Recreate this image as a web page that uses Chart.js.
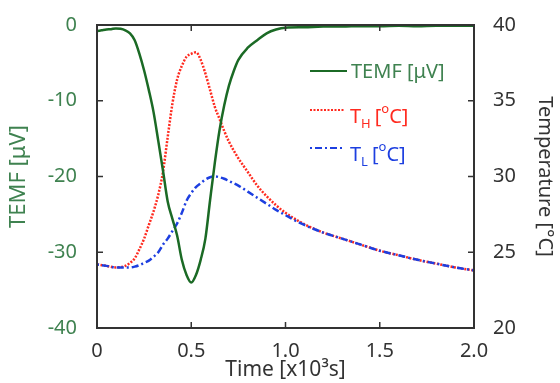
<!DOCTYPE html>
<html>
<head>
<meta charset="utf-8">
<script src="https://cdn.jsdelivr.net/npm/chart.js@4"></script>
<style>
  html, body { margin: 0; padding: 0; background: #fff; }
  #wrap { width: 560px; height: 383px; }
</style>
</head>
<body>
<div id="wrap"><canvas id="c" width="560" height="383"></canvas></div>
<script>
// time [x10^3 s] for the TEMF trace
const tTemf = [0, 0.025, 0.05, 0.075, 0.1, 0.125, 0.15, 0.175, 0.2, 0.225, 0.25, 0.275, 0.3, 0.325, 0.35, 0.375, 0.4, 0.425, 0.45, 0.475, 0.5, 0.525, 0.55, 0.575, 0.6, 0.625, 0.65, 0.675, 0.7, 0.725, 0.75, 0.8, 0.85, 0.9, 0.95, 1.0, 1.1, 1.2, 1.3, 1.4, 1.5, 1.6, 1.7, 1.8, 1.9, 2.0];
const temf = [-0.8, -0.7, -0.6, -0.55, -0.45, -0.5, -0.7, -1.1, -2.0, -3.8, -6.0, -8.6, -11.5, -15.3, -19.2, -23.3, -25.6, -27.8, -31.0, -33.0, -34.0, -33.0, -31.0, -28.2, -23.1, -18.2, -13.9, -10.6, -8.0, -6.1, -4.6, -3.0, -2.0, -1.1, -0.6, -0.35, -0.3, -0.2, -0.2, -0.15, -0.15, -0.1, -0.15, -0.1, -0.1, -0.1];

// time [x10^3 s] for the temperatures
const tTemp = [0, 0.05, 0.1, 0.15, 0.175, 0.2, 0.225, 0.25, 0.275, 0.3, 0.325, 0.35, 0.375, 0.4, 0.425, 0.45, 0.475, 0.5, 0.525, 0.55, 0.575, 0.6, 0.625, 0.65, 0.675, 0.7, 0.75, 0.8, 0.85, 0.9, 0.95, 1.0, 1.05, 1.1, 1.2, 1.3, 1.4, 1.5, 1.6, 1.7, 1.8, 1.9, 2.0];
const tHigh = [24.2, 24.1, 24.0, 24.1, 24.3, 24.6, 25.2, 25.9, 26.8, 27.7, 28.8, 30.3, 32.6, 34.8, 36.4, 37.3, 37.9, 38.1, 38.2, 37.7, 36.8, 35.7, 34.6, 33.8, 33.0, 32.3, 31.2, 30.3, 29.4, 28.7, 28.1, 27.6, 27.2, 26.85, 26.3, 25.9, 25.5, 25.1, 24.8, 24.5, 24.25, 24.0, 23.8];
const tLow = [24.2, 24.1, 24.0, 24.0, 24.0, 24.05, 24.15, 24.3, 24.45, 24.7, 25.0, 25.5, 25.9, 26.4, 26.9, 27.6, 28.4, 28.9, 29.3, 29.55, 29.8, 29.95, 30.0, 29.95, 29.85, 29.7, 29.4, 29.0, 28.6, 28.2, 27.8, 27.45, 27.1, 26.8, 26.3, 25.9, 25.5, 25.1, 24.8, 24.5, 24.25, 24.0, 23.8];

const xTicks = ['0', '0.5', '1.0', '1.5', '2.0'];
const leftTicks = ['-40', '-30', '-20', '-10', '0'];
const rightTicks = ['20', '25', '30', '35', '40'];

const GREEN_LINE = '#1b6a25';
const GREEN_TEXT = '#3f8250';
const RED = '#ff2a1f';
const BLUE = '#1d3fe0';
const AXIS = '#333333';
const FONT = "'Noto Sans', sans-serif";

const pts = (xs, ys) => xs.map((x, i) => ({ x: x, y: ys[i] }));

// frame, inward ticks and the legend (needs subscripts)
const framePlugin = {
    id: 'frame',
    afterDraw(chart) {
        const ctx = chart.ctx;
        const a = chart.chartArea;
        const sx = chart.scales.x, sl = chart.scales.y, sr = chart.scales.y1;
        ctx.save();
        ctx.strokeStyle = AXIS;
        ctx.lineWidth = 2;
        ctx.strokeRect(a.left, a.top, a.right - a.left, a.bottom - a.top);
        ctx.lineWidth = 1.5;
        ctx.beginPath();
        sx.ticks.forEach(t => {
            const px = sx.getPixelForValue(t.value);
            ctx.moveTo(px, a.bottom); ctx.lineTo(px, a.bottom - 6);
            ctx.moveTo(px, a.top); ctx.lineTo(px, a.top + 6);
        });
        sl.ticks.forEach(t => {
            const py = sl.getPixelForValue(t.value);
            ctx.moveTo(a.left, py); ctx.lineTo(a.left + 6, py);
        });
        sr.ticks.forEach(t => {
            const py = sr.getPixelForValue(t.value);
            ctx.moveTo(a.right, py); ctx.lineTo(a.right - 6, py);
        });
        ctx.stroke();

        // legend
        const lx = 310, lw = 37;
        ctx.textBaseline = 'middle';
        ctx.textAlign = 'left';
        ctx.font = '20px ' + FONT;

        ctx.setLineDash([]);
        ctx.strokeStyle = GREEN_LINE; ctx.lineWidth = 2;
        ctx.beginPath(); ctx.moveTo(lx, 71); ctx.lineTo(lx + lw, 71); ctx.stroke();
        ctx.fillStyle = GREEN_TEXT;
        ctx.fillText('TEMF [\u03bcV]', lx + lw + 4, 72);

        const tempEntry = (y, color, dash, sub) => {
            ctx.setLineDash(dash);
            ctx.strokeStyle = color; ctx.lineWidth = 2;
            ctx.beginPath(); ctx.moveTo(lx, y); ctx.lineTo(lx + lw - 2, y); ctx.stroke();
            ctx.setLineDash([]);
            ctx.fillStyle = color;
            let x = lx + lw + 3;
            ctx.font = '20px ' + FONT;
            ctx.fillText('T', x, y + 7); x += ctx.measureText('T').width;
            ctx.font = '13px ' + FONT;
            ctx.fillText(sub, x, y + 14); x += ctx.measureText(sub).width + 4;
            ctx.font = '20px ' + FONT;
            ctx.fillText('[', x, y + 7); x += ctx.measureText('[').width;
            ctx.font = '13px ' + FONT;
            ctx.fillText('o', x, y - 1); x += ctx.measureText('o').width;
            ctx.font = '20px ' + FONT;
            ctx.fillText('C]', x, y + 7);
        };
        tempEntry(110, RED, [2, 1.5], 'H');
        tempEntry(148, BLUE, [2, 3, 7, 3], 'L');
        ctx.restore();
    }
};

new Chart(document.getElementById('c'), {
    type: 'line',
    data: {
        datasets: [
            {
                label: 'TEMF [\u03bcV]',
                data: pts(tTemf, temf),
                yAxisID: 'y',
                borderColor: GREEN_LINE,
                borderWidth: 2.5,
                pointRadius: 0,
                cubicInterpolationMode: 'monotone',
                order: 0
            },
            {
                label: 'TL',
                data: pts(tTemp, tLow),
                yAxisID: 'y1',
                borderColor: BLUE,
                borderWidth: 2.5,
                borderDash: [2, 3, 7, 3],
                pointRadius: 0,
                cubicInterpolationMode: 'monotone',
                order: 1
            },
            {
                label: 'TH',
                data: pts(tTemp, tHigh),
                yAxisID: 'y1',
                borderColor: RED,
                borderWidth: 2.5,
                borderDash: [2, 1.5],
                pointRadius: 0,
                cubicInterpolationMode: 'monotone',
                order: 2
            }
        ]
    },
    options: {
        responsive: false,
        animation: false,
        layout: { padding: { top: 25, left: 0, right: 0, bottom: 0 } },
        plugins: { legend: { display: false }, tooltip: { enabled: false } },
        scales: {
            x: {
                type: 'linear',
                min: 0, max: 2,
                grid: { display: false },
                border: { display: false },
                afterFit: (s) => { s.height = 55; },
                ticks: {
                    stepSize: 0.5,
                    padding: 3,
                    maxRotation: 0,
                    autoSkip: false,
                    color: '#333',
                    font: { family: FONT, size: 20 },
                    callback: (v, i) => xTicks[i]
                },
                title: {
                    display: true,
                    text: 'Time [x10\u00b3s]',
                    color: '#333',
                    font: { family: FONT, size: 21 },
                    padding: { top: 0, bottom: 0 }
                }
            },
            y: {
                position: 'left',
                min: -40, max: 0,
                grid: { display: false },
                border: { display: false },
                afterFit: (s) => { s.width = 97; },
                ticks: {
                    stepSize: 10,
                    padding: 12,
                    color: GREEN_TEXT,
                    font: { family: FONT, size: 20 },
                    callback: (v, i) => leftTicks[i]
                },
                title: {
                    display: true,
                    text: 'TEMF [\u03bcV]',
                    color: GREEN_TEXT,
                    font: { family: FONT, size: 22 },
                    padding: { top: 6, bottom: 0 }
                }
            },
            y1: {
                position: 'right',
                min: 20, max: 40,
                grid: { display: false },
                border: { display: false },
                afterFit: (s) => { s.width = 86; },
                ticks: {
                    stepSize: 5,
                    padding: 11,
                    color: '#333',
                    font: { family: FONT, size: 20 },
                    callback: (v, i) => rightTicks[i]
                },
                title: {
                    display: true,
                    text: 'Temperature [\u00b0C]',
                    color: '#333',
                    font: { family: FONT, size: 20 },
                    padding: { top: 3, bottom: 0 }
                }
            }
        }
    },
    plugins: [framePlugin]
});
</script>
</body>
</html>
